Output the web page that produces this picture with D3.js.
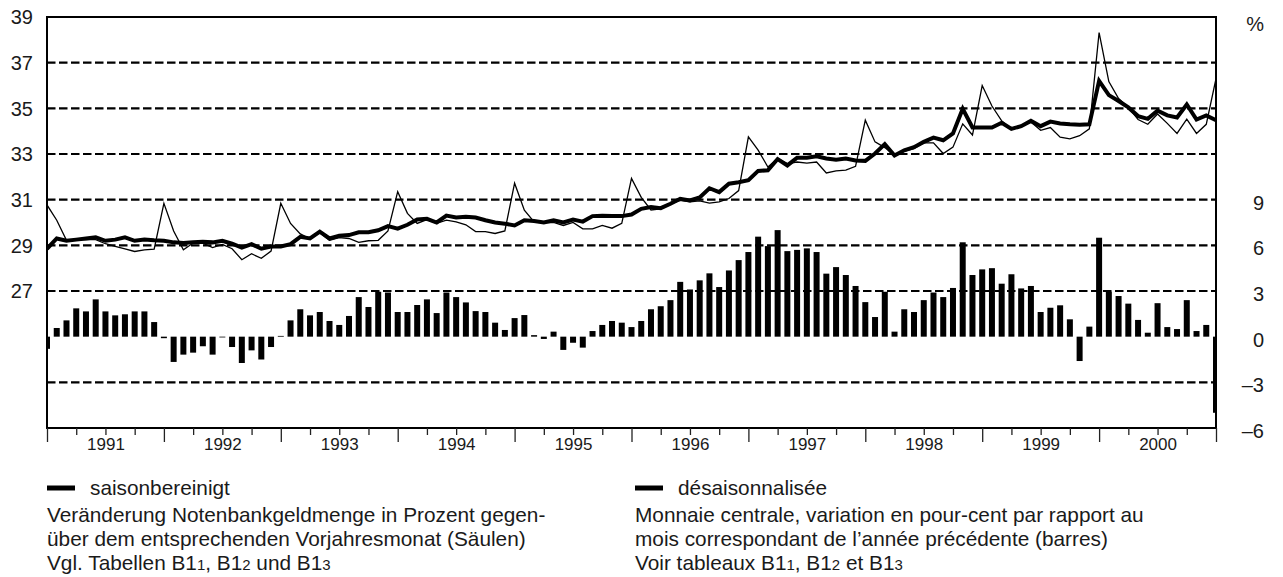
<!DOCTYPE html>
<html>
<head>
<meta charset="utf-8">
<script src="https://cdn.jsdelivr.net/npm/d3@7"></script>
<style>
  body { margin: 0; background: #fff; }
  svg text { font-family: "Liberation Sans", Arial, sans-serif; fill: #1a1a1a; }
</style>
</head>
<body>
<div id="chart"></div>
<script>
// Monthly values, Dec 1990 .. Dec 2000 (121 months)
var years = [1991, 1992, 1993, 1994, 1995, 1996, 1997, 1998, 1999, 2000];
var leftTicks = [27, 29, 31, 33, 35, 37, 39];
var rightTicks = [-6, -3, 0, 3, 6, 9];

// seasonally adjusted (thick line), left axis
var adjusted = [
  28.85, 29.3, 29.2, 29.25, 29.3, 29.35, 29.2, 29.25, 29.35, 29.2, 29.25, 29.22,
  29.2, 29.13, 29.1, 29.13, 29.16, 29.13, 29.2, 29.07, 28.9, 29.05, 28.85, 28.95,
  28.95, 29.05, 29.37, 29.3, 29.6, 29.3, 29.42, 29.45, 29.57, 29.57, 29.66, 29.84,
  29.73, 29.9, 30.13, 30.16, 30.0, 30.3, 30.22, 30.25, 30.22, 30.1, 30.0, 29.95,
  29.87, 30.1, 30.07, 30.0, 30.1, 30.0, 30.13, 30.04, 30.28, 30.3, 30.28, 30.28,
  30.35, 30.6, 30.68, 30.63, 30.82, 31.04, 30.97, 31.1, 31.5, 31.33, 31.7, 31.76,
  31.85, 32.26, 32.29, 32.78, 32.5, 32.84, 32.84, 32.9, 32.8, 32.75, 32.8, 32.72,
  32.7, 33.02, 33.43, 32.93, 33.16, 33.3, 33.53, 33.72, 33.6, 33.9, 34.98, 34.16,
  34.16, 34.16, 34.37, 34.1, 34.22, 34.45, 34.22, 34.42, 34.34, 34.3, 34.28, 34.3,
  36.2, 35.58, 35.32, 35.04, 34.66, 34.54, 34.9, 34.69, 34.6, 35.17, 34.51, 34.69,
  34.48
];

// unadjusted (thin line), left axis
var unadjusted = [
  30.77, 30.1, 29.22, 29.25, 29.25, 29.25, 29.07, 28.95, 28.85, 28.73, 28.8, 28.83,
  30.84, 29.63, 28.8, 29.1, 29.1, 28.9, 29.04, 28.85, 28.37, 28.63, 28.43, 28.75,
  30.84, 29.96, 29.5, 29.28, 29.55, 29.22, 29.34, 29.3, 29.13, 29.2, 29.22, 29.63,
  31.35, 30.4, 29.96, 30.13, 29.96, 30.1, 30.03, 29.9, 29.6, 29.6, 29.52, 29.63,
  31.72, 30.54, 30.03, 30.0, 30.0, 29.87, 30.0, 29.72, 29.72, 29.87, 29.75, 29.96,
  31.93, 31.1, 30.55, 30.6, 30.82, 30.97, 30.9, 30.95, 30.85, 30.9, 31.05, 31.4,
  33.75, 33.17, 32.43, 32.8, 32.58, 32.65, 32.6, 32.65, 32.17, 32.26, 32.29, 32.46,
  34.48, 33.53, 33.28, 32.94, 33.13, 33.24, 33.49, 33.49, 33.02, 33.3, 34.32, 33.83,
  36.0, 35.1, 34.45, 34.1, 34.22, 34.4, 34.04, 34.16, 33.74, 33.66, 33.8, 34.1,
  38.32, 36.17, 35.43, 35.04, 34.51, 34.3, 34.75, 34.34, 33.9, 34.53, 33.9, 34.3,
  36.3
];

// change vs same month of previous year in % (bars), right axis
var change = [
  -0.8, 0.57, 1.07, 1.86, 1.66, 2.45, 1.66, 1.4, 1.47, 1.66, 1.66, 0.96,
  -0.1, -1.66, -1.18, -1.05, -0.63, -1.18, -0.05, -0.68, -1.73, -0.9, -1.5, -0.68,
  0.05, 1.07, 1.8, 1.4, 1.62, 1.03, 0.77, 1.36, 2.6, 1.95, 2.95, 2.9,
  1.62, 1.62, 2.08, 2.45, 1.55, 2.9, 2.6, 2.25, 1.68, 1.62, 0.92, 0.44,
  1.22, 1.42, 0.1, -0.15, 0.33, -0.87, -0.4, -0.72, 0.37, 0.77, 1.03, 0.92,
  0.63, 1.03, 1.8, 2.0, 2.4, 3.6, 3.1, 3.7, 4.16, 3.26, 4.35, 5.03,
  5.56, 6.57, 5.95, 7.0, 5.62, 5.7, 5.8, 5.56, 4.14, 4.57, 4.05, 3.33,
  2.27, 1.29, 2.95, 0.33, 1.8, 1.62, 2.4, 2.9, 2.6, 3.2, 6.2, 4.05,
  4.42, 4.5, 3.48, 4.1, 3.17, 3.33, 1.62, 1.9, 2.06, 1.14, -1.6, 0.66,
  6.5, 2.95, 2.67, 2.17, 1.1, 0.26, 2.2, 0.63, 0.5, 2.4, 0.37, 0.77,
  -5.0
];

var legendDe = ["Veränderung Notenbankgeldmenge in Prozent gegen-",
                "über dem entsprechenden Vorjahresmonat (Säulen)"];
var legendFr = ["Monnaie centrale, variation en pour-cent par rapport au",
                "mois correspondant de l\u2019année précédente (barres)"];

function drawChart(){
    var W = 1283, H = 577;
    var margin = { left: 47, right: 67, top: 17, bottom: 149 };
    var width = W - margin.left - margin.right,
        height = H - margin.top - margin.bottom;

    var svg = d3.select("#chart").append("svg")
        .attr("width", W)
        .attr("height", H);

    var g = svg.append("g")
        .attr("transform", "translate(" + margin.left + "," + margin.top + ")");

    // Scales
    var months = d3.range(adjusted.length);
    var x = d3.scaleLinear().domain([0, months.length - 1]).range([0, width]);
    var yL = d3.scaleLinear().domain([21, 39]).range([height, 0]);
    var yR = d3.scaleLinear().domain([-6, 21]).range([height, 0]);

    g.append("clipPath").attr("id", "plot-clip")
        .append("rect").attr("width", width).attr("height", height);

    // Dashed grid lines
    var gridY = leftTicks.filter(function(v){ return v > 21 && v < 39; }).map(yL)
        .concat([yR(-3)]);
    g.selectAll(".grid").data(gridY).enter().append("line")
        .attr("class", "grid")
        .attr("x1", 0).attr("x2", width)
        .attr("y1", function(d){ return d; })
        .attr("y2", function(d){ return d; })
        .attr("stroke", "#000")
        .attr("stroke-width", 2.2)
        .attr("stroke-dasharray", "8.5,3.5");

    var plot = g.append("g").attr("clip-path", "url(#plot-clip)");

    // Bars
    var barW = 6;
    plot.selectAll(".bar").data(change).enter().append("rect")
        .attr("class", "bar")
        .attr("x", function(d, i){ return x(i) - barW / 2; })
        .attr("width", barW)
        .attr("y", function(d){ return yR(Math.max(0, d)); })
        .attr("height", function(d){ return Math.abs(yR(d) - yR(0)); })
        .attr("fill", "#000");

    // Lines
    var line = d3.line()
        .x(function(d, i){ return x(i); })
        .y(function(d){ return yL(d); });

    plot.append("path").datum(unadjusted)
        .attr("d", line)
        .attr("fill", "none")
        .attr("stroke", "#000")
        .attr("stroke-width", 1.3)
        .attr("stroke-linejoin", "miter");

    plot.append("path").datum(adjusted)
        .attr("d", line)
        .attr("fill", "none")
        .attr("stroke", "#000")
        .attr("stroke-width", 4)
        .attr("stroke-linejoin", "miter");

    // Frame
    g.append("rect")
        .attr("width", width).attr("height", height)
        .attr("fill", "none")
        .attr("stroke", "#000")
        .attr("stroke-width", 2);

    // X axis: quarter ticks, longer at year boundaries
    var quarters = months.filter(function(i){ return i % 3 === 0; });
    var xAxis = g.append("g")
        .attr("transform", "translate(0," + height + ")")
        .call(d3.axisBottom(x).tickValues(quarters).tickSize(7).tickFormat(""));
    xAxis.select(".domain").remove();
    xAxis.selectAll(".tick line")
        .attr("stroke", "#222")
        .attr("stroke-width", 1.3)
        .attr("y2", function(d){ return d % 12 === 0 ? 14 : 7; });

    var yearAxis = g.append("g")
        .attr("transform", "translate(0," + height + ")")
        .call(d3.axisBottom(x)
            .tickValues(years.map(function(y, k){ return k * 12 + 6; }))
            .tickSize(0).tickPadding(10)
            .tickFormat(function(d){ return years[(d - 6) / 12]; }));
    yearAxis.select(".domain").remove();
    yearAxis.selectAll("text")
        .attr("font-size", "17px")
        .attr("font-family", "Liberation Sans, Arial, sans-serif")
        .attr("fill", "#333");

    // Left labels
    g.selectAll(".lt").data(leftTicks).enter().append("text")
        .attr("class", "lt")
        .attr("x", -14)
        .attr("y", function(d){ return yL(d); })
        .attr("dy", "0.36em")
        .attr("text-anchor", "end")
        .attr("font-size", "20px")
        .text(function(d){ return d; });

    // Right labels
    g.selectAll(".rt").data(rightTicks).enter().append("text")
        .attr("class", "rt")
        .attr("x", width + 48)
        .attr("y", function(d){ return yR(d); })
        .attr("dy", "0.5em")
        .attr("text-anchor", "end")
        .attr("font-size", "20px")
        .text(function(d){ return d < 0 ? "\u2013" + Math.abs(d) : d; });
    g.append("text")
        .attr("x", width + 48)
        .attr("y", 7)
        .attr("dy", "0.36em")
        .attr("text-anchor", "end")
        .attr("font-size", "20px")
        .text("%");

    // Legend
    var fs = 20.8;
    function legendBlock(x0, title, rows, ref){
        var lg = svg.append("g").attr("font-size", fs + "px");
        lg.append("line")
            .attr("x1", x0).attr("x2", x0 + 28)
            .attr("y1", 488).attr("y2", 488)
            .attr("stroke", "#000").attr("stroke-width", 5);
        lg.append("text").attr("x", x0 + 43).attr("y", 495).text(title);
        rows.forEach(function(r, i){
            lg.append("text").attr("x", x0).attr("y", 522 + i * 24).text(r);
        });
        var t = lg.append("text").attr("x", x0).attr("y", 570);
        ref.forEach(function(p){
            t.append("tspan").text(p[0]);
            if (p[1]) t.append("tspan").attr("font-size", (fs * 0.72) + "px").text(p[1]);
        });
    }
    legendBlock(47, "saisonbereinigt", legendDe,
        [["Vgl. Tabellen B1", "1"], [", B1", "2"], [" und B1", "3"]]);
    legendBlock(635, "désaisonnalisée", legendFr,
        [["Voir tableaux B1", "1"], [", B1", "2"], [" et B1", "3"]]);
}

drawChart();
</script>
</body>
</html>
